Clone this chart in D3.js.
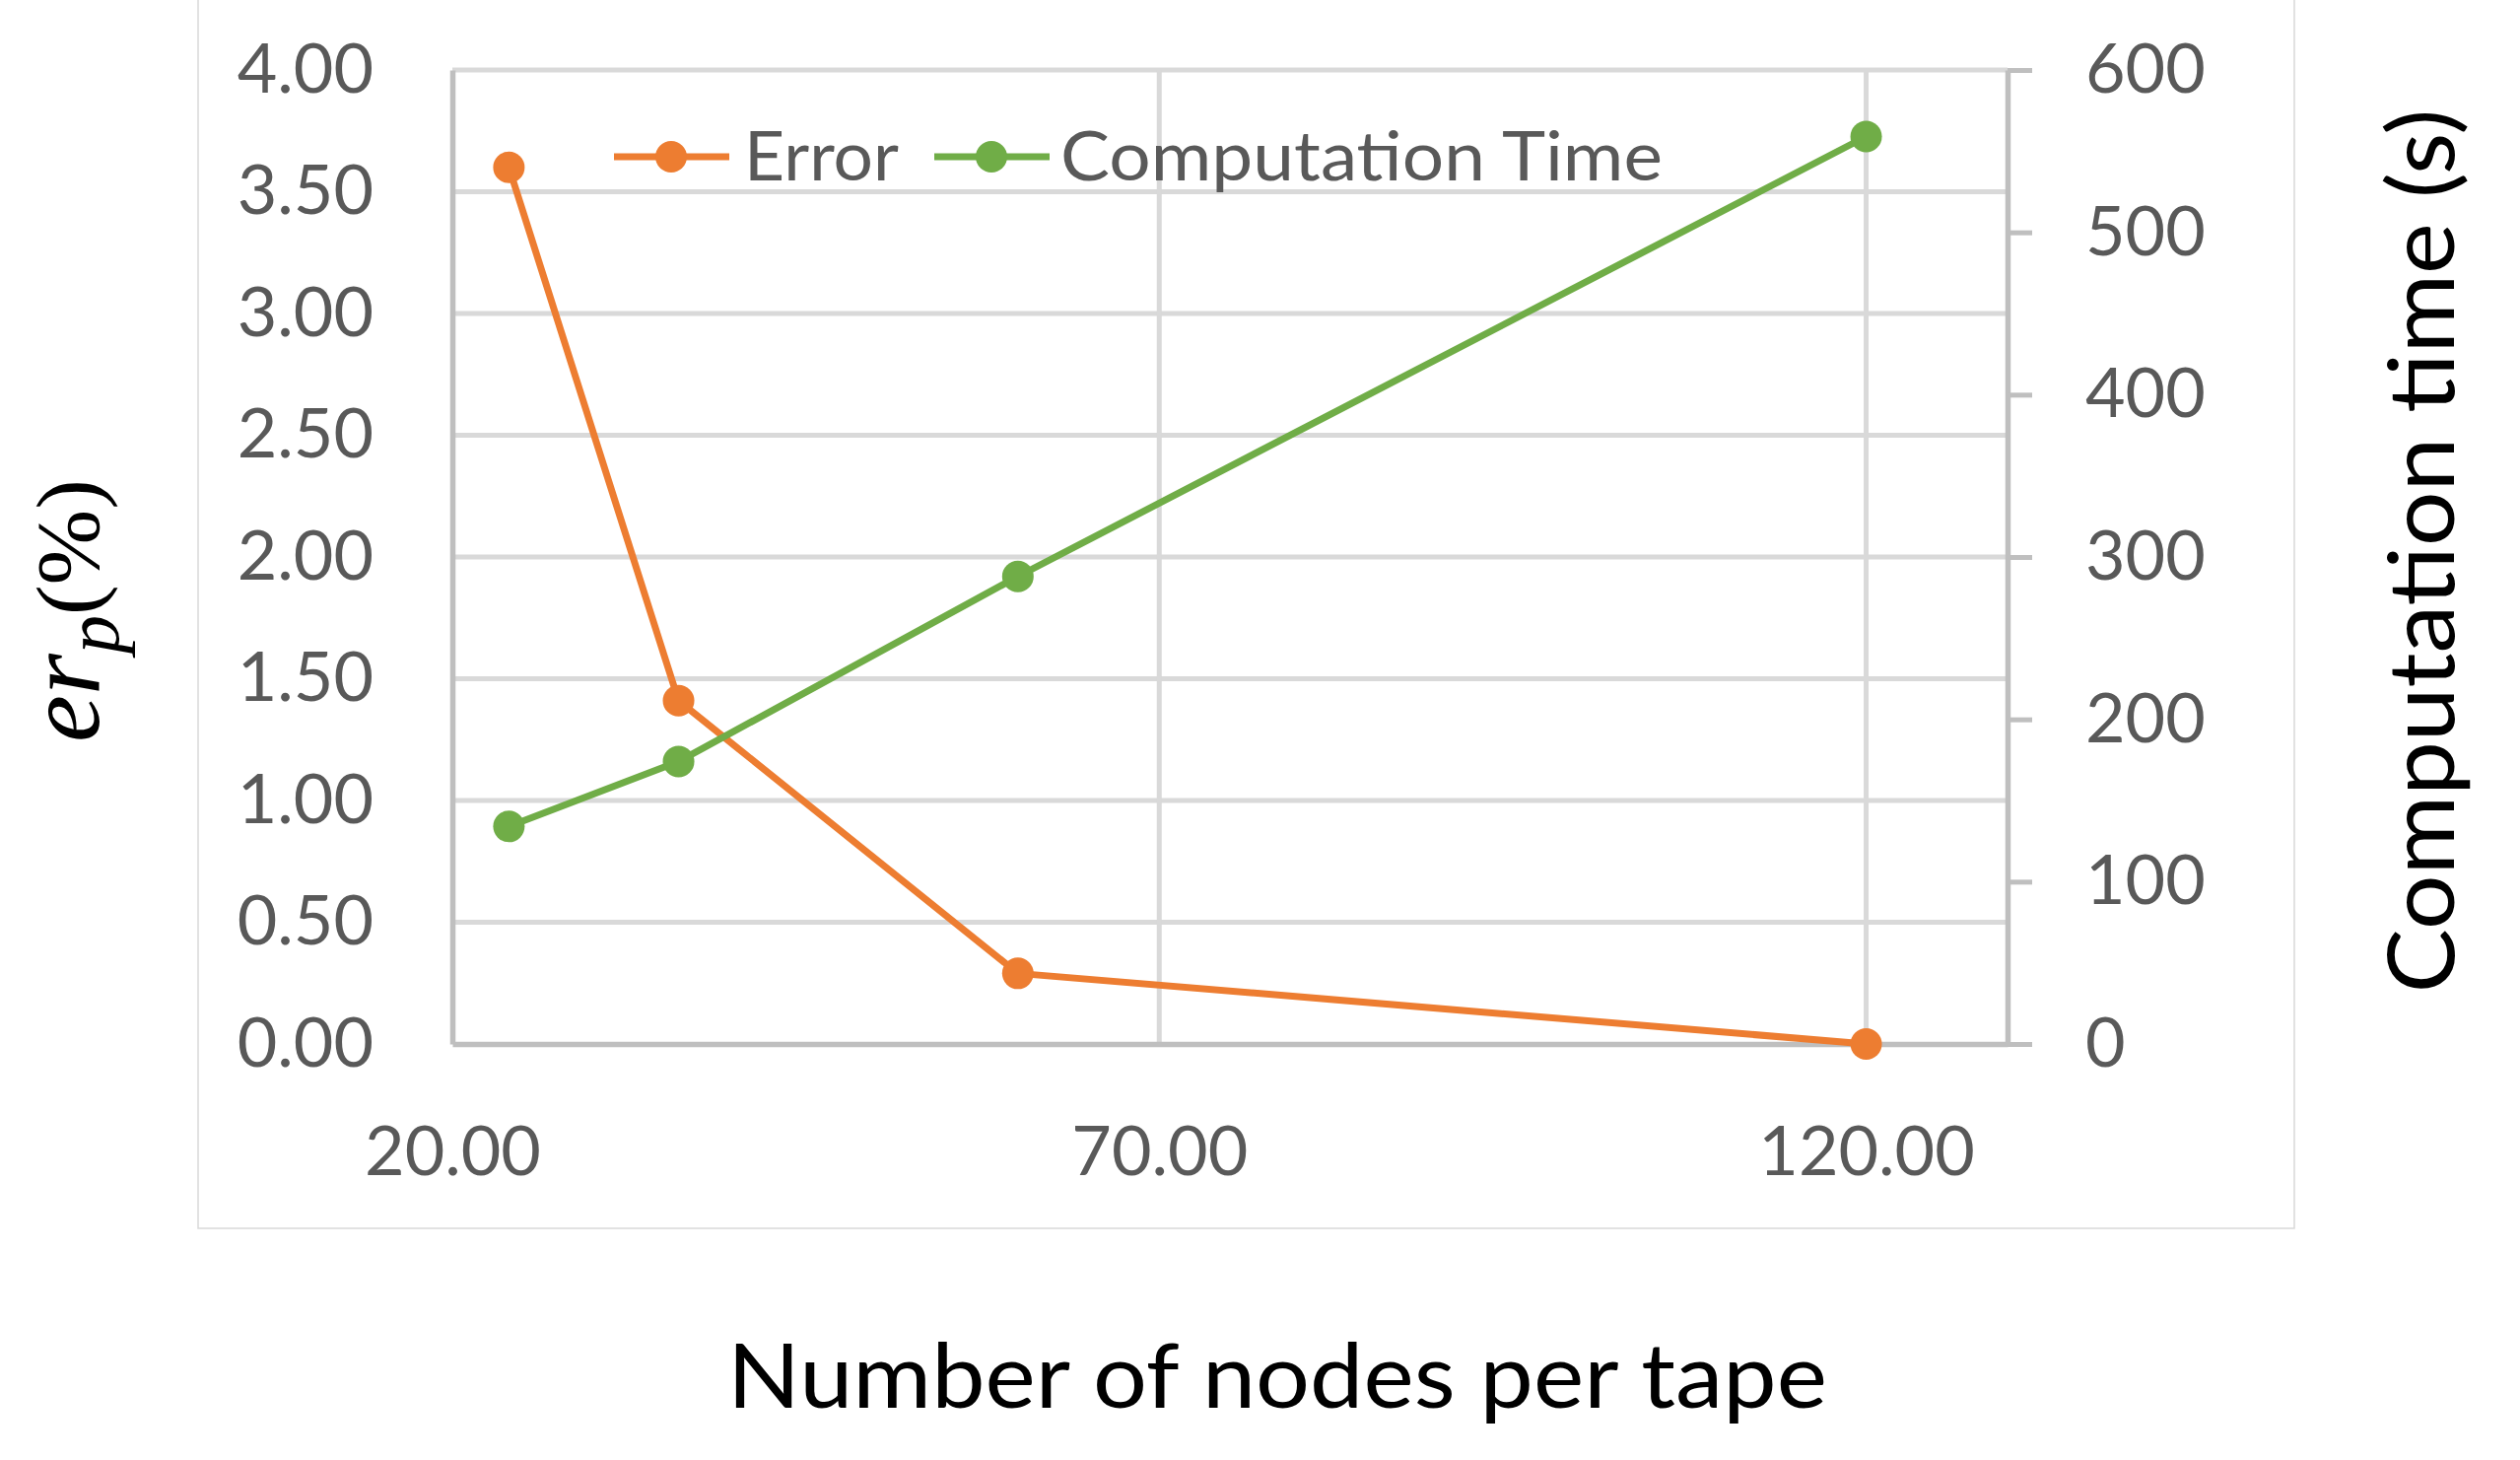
<!DOCTYPE html>
<html>
<head>
<meta charset="utf-8">
<script src="https://cdn.jsdelivr.net/npm/d3@7"></script>
<style>
  body { margin: 0; background: #fff; }
  svg { display: block; }
  text { font-family: Lato, "Open Sans", sans-serif; }
</style>
</head>
<body>
<div class="data"></div>
<script>
// values
const nodes = [24, 36, 60, 120]
const errorPct = [3.60, 1.41, 0.29, 0.00]
const compTime = [134, 174, 288, 559]
const xTicks = [20, 70, 120]
const errTicks = [0, 0.5, 1, 1.5, 2, 2.5, 3, 3.5, 4]
const timeTicks = [0, 100, 200, 300, 400, 500, 600]
const seriesNames = ["Error", "Computation Time"]

const W = 2557, H = 1481
const plot = {left: 459, right: 2037, top: 71, bottom: 1059}

const orange = "#ED7D31", green = "#70AD47"
const gridColor = "#d9d9d9", axisColor = "#bfbfbf", labelColor = "#595959"

const x = d3.scaleLinear().domain([20, 130]).range([plot.left, plot.right])
const yErr = d3.scaleLinear().domain([0, 4]).range([plot.bottom, plot.top])
const yTime = d3.scaleLinear().domain([0, 600]).range([plot.bottom, plot.top])

const svg = d3.select(".data").append("svg")
    .attr("width", W)
    .attr("height", H)

// chart area frame
svg.append("rect")
    .attr("x", 201).attr("y", -10)
    .attr("width", 2127).attr("height", 1256)
    .attr("fill", "#fff")
    .attr("stroke", gridColor)
    .attr("stroke-width", 1.5)

// gridlines
svg.append("g").selectAll("line")
    .data(errTicks.filter(d => d > 0))
  .enter().append("line")
    .attr("x1", plot.left).attr("x2", plot.right)
    .attr("y1", d => yErr(d)).attr("y2", d => yErr(d))
    .attr("stroke", gridColor)
    .attr("stroke-width", 5)

svg.append("g").selectAll("line")
    .data(xTicks.filter(d => d > 20))
  .enter().append("line")
    .attr("x1", d => x(d)).attr("x2", d => x(d))
    .attr("y1", plot.top).attr("y2", plot.bottom)
    .attr("stroke", gridColor)
    .attr("stroke-width", 5)

// axes
const leftAxis = svg.append("g")
    .attr("transform", "translate(" + plot.left + ",0)")
    .call(d3.axisLeft(yErr).tickValues(errTicks).tickFormat(d3.format(".2f"))
        .tickSize(0).tickPadding(80))

const rightAxis = svg.append("g")
    .attr("transform", "translate(" + plot.right + ",0)")
    .call(d3.axisRight(yTime).tickValues(timeTicks).tickFormat(d3.format("d"))
        .tickSize(25).tickSizeOuter(0).tickPadding(54))

const bottomAxis = svg.append("g")
    .attr("transform", "translate(0," + plot.bottom + ")")
    .call(d3.axisBottom(x).tickValues(xTicks).tickFormat(d3.format(".2f"))
        .tickSize(0).tickSizeOuter(0).tickPadding(83))

;[leftAxis, rightAxis, bottomAxis].forEach(function(g) {
    g.select(".domain")
        .attr("stroke", axisColor)
        .attr("stroke-width", 5.5)
    g.selectAll(".tick line")
        .attr("stroke", axisColor)
        .attr("stroke-width", 5)
    g.selectAll("text")
        .attr("fill", labelColor)
        .style("font-size", "70px")
        .style("font-family", "Lato, sans-serif")
})

// series
const errData = nodes.map((n, i) => ({x: n, y: errorPct[i]}))
const timeData = nodes.map((n, i) => ({x: n, y: compTime[i]}))

const errLine = d3.line().x(d => x(d.x)).y(d => yErr(d.y))
const timeLine = d3.line().x(d => x(d.x)).y(d => yTime(d.y))

function drawSeries(data, line, yScale, color) {
    svg.append("path")
        .datum(data)
        .attr("d", line)
        .attr("fill", "none")
        .attr("stroke", color)
        .attr("stroke-width", 7)
        .attr("stroke-linejoin", "round")
    svg.append("g").selectAll("circle")
        .data(data)
      .enter().append("circle")
        .attr("cx", d => x(d.x))
        .attr("cy", d => yScale(d.y))
        .attr("r", 16)
        .attr("fill", color)
}

drawSeries(errData, errLine, yErr, orange)
drawSeries(timeData, timeLine, yTime, green)

// legend
const legendItems = [
    {name: seriesNames[0], color: orange, x: 623, textX: 755, textW: 157},
    {name: seriesNames[1], color: green, x: 948, textX: 1076, textW: 611}
]

const legend = svg.selectAll(".legend")
    .data(legendItems)
  .enter().append("g")
    .attr("class", "legend")

legend.append("line")
    .attr("x1", d => d.x).attr("x2", d => d.x + 117)
    .attr("y1", 159).attr("y2", 159)
    .attr("stroke", d => d.color)
    .attr("stroke-width", 7)

legend.append("circle")
    .attr("cx", d => d.x + 58)
    .attr("cy", 159)
    .attr("r", 16)
    .attr("fill", d => d.color)

legend.append("text")
    .attr("x", d => d.textX)
    .attr("y", 183)
    .attr("textLength", d => d.textW)
    .attr("lengthAdjust", "spacingAndGlyphs")
    .attr("fill", labelColor)
    .style("font-size", "70px")
    .text(d => d.name)

// axis titles
const leftTitle = svg.append("text")
    .attr("transform", "translate(100,753) rotate(-90)")
    .attr("fill", "#000")

leftTitle.append("tspan")
    .style("font-family", "'Liberation Serif', serif")
    .style("font-style", "italic")
    .style("font-size", "108px")
    .text("er")

leftTitle.append("tspan")
    .attr("dy", 20)
    .style("font-family", "'Liberation Serif', serif")
    .style("font-style", "italic")
    .style("font-size", "78px")
    .text("p")

leftTitle.append("tspan")
    .attr("dy", -20)
    .style("font-family", "'Liberation Serif', serif")
    .style("font-size", "92px")
    .text("(%)")

svg.append("text")
    .attr("transform", "translate(2490,559) rotate(-90)")
    .attr("text-anchor", "middle")
    .attr("textLength", 897)
    .attr("lengthAdjust", "spacingAndGlyphs")
    .attr("fill", "#000")
    .style("font-size", "93px")
    .text("Computation time (s)")

svg.append("text")
    .attr("x", 1296)
    .attr("y", 1428)
    .attr("text-anchor", "middle")
    .attr("textLength", 1116)
    .attr("lengthAdjust", "spacingAndGlyphs")
    .attr("fill", "#000")
    .style("font-size", "92px")
    .text("Number of nodes per tape")
</script>
</body>
</html>
